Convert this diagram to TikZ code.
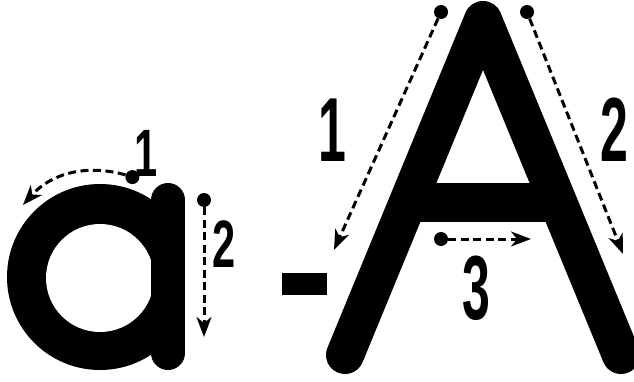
\documentclass[tikz,border=0pt]{standalone}
\usepackage{fontspec}
\setmainfont{Liberation Sans}
\usepackage{graphicx}
\usetikzlibrary{arrows.meta, calc}

\tikzset{
  punto/.style={circle, fill=black, inner sep=0pt, minimum size=14pt},
  trazo/.style={-{Stealth[length=20pt, width=15pt, inset=6pt]}, line width=3pt, dash pattern=on 8pt off 4.5pt},
  numchico/.style={inner sep=0pt, font=\fontsize{67}{67}\selectfont\bfseries},
  numgrande/.style={inner sep=0pt, font=\fontsize{91}{91}\selectfont\bfseries},
}

\begin{document}
\begin{tikzpicture}[x=1pt, y=1pt]
  \clip (0,0) rectangle (634,381);

  % Letra a
  \begin{scope}
    \clip (0,0) rectangle (168,210);
    \fill (100,104) circle (93);
  \end{scope}
  \fill[white] (100,103) circle (54);
  \draw[line width=34pt, line cap=round] (168,28) -- (168,181);

  % Trazo 1 (a)
  \node[punto] (pa1) at (132.4,203.9) {};
  \coordinate (fa1) at (23,176);
  \draw[trazo] (pa1) to[bend right=32] (fa1);
  \node[numchico] (na1) at (146,228) {\scalebox{0.62}[1]{1}};

  % Trazo 2 (a)
  \node[punto] (pa2) at (204,181) {};
  \coordinate (fa2) at (204,44);
  \draw[trazo] (pa2) -- (fa2);
  \node[numchico] (na2) at (224,137) {\scalebox{0.62}[1]{2}};

  % Guion
  \fill (282,86) rectangle (327,108);

  % Letra A
  \draw[line width=38pt, line cap=round, line join=round] (345,26) -- (483,361) -- (621,26);
  \draw[line width=39pt] (400,178.5) -- (566,178.5);

  % Trazo 1 (A)
  \node[punto] (pA1) at (441,369) {};
  \coordinate (fA1) at (334,131);
  \draw[trazo] (pA1) -- (fA1);
  \node[numgrande] (nA1) at (332,251) {\scalebox{0.55}[1]{1}};

  % Trazo 2 (A)
  \node[punto] (pA2) at (527,369) {};
  \coordinate (fA2) at (623,127);
  \draw[trazo] (pA2) -- (fA2);
  \node[numgrande] (nA2) at (614,251) {\scalebox{0.55}[1]{2}};

  % Trazo 3 (A)
  \node[punto] (pA3) at (441,142) {};
  \coordinate (fA3) at (531,142);
  \draw[trazo] (pA3) -- (fA3);
  \node[numgrande] (nA3) at (476,93) {\scalebox{0.55}[1]{3}};
\end{tikzpicture}
\end{document}
